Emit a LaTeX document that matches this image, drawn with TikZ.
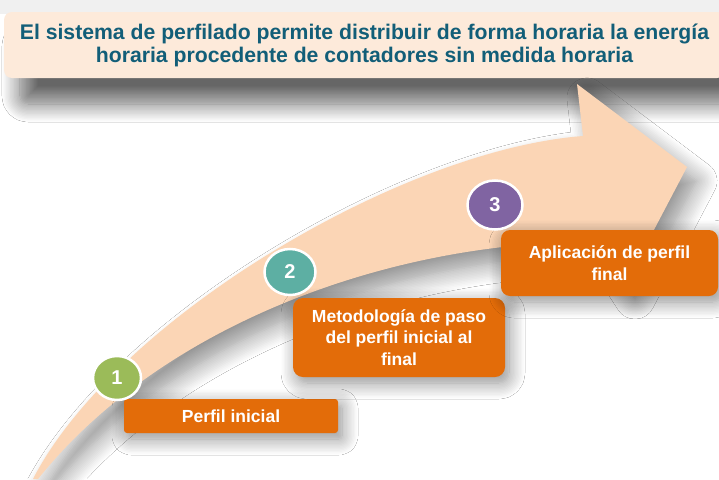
\documentclass[tikz,border=0pt]{standalone}
\usepackage{fontspec}
\setmainfont{Liberation Sans}
\usetikzlibrary{shapes.geometric, shadows.blur}

\definecolor{peach}{HTML}{FBD5B5}
\definecolor{titlefill}{HTML}{FDEADA}
\definecolor{titletext}{HTML}{125E78}
\definecolor{boxorange}{HTML}{E36C09}
\definecolor{numgreen}{HTML}{9BBB59}
\definecolor{numteal}{HTML}{5DAFA3}
\definecolor{numpurple}{HTML}{8064A2}

\tikzset{
  stepbox/.style={fill=boxorange, text=white, font=\fontsize{17.5}{21.5}\selectfont\bfseries,
    align=center, inner sep=0pt, blur shadow={shadow xshift=4pt, shadow yshift=-6pt, shadow blur radius=16pt, shadow blur steps=12, shadow opacity=45}},
  stepnum/.style={ellipse, draw=white, line width=2.5pt, text=white, inner sep=0pt,
    font=\fontsize{20}{20}\selectfont\bfseries},
}

\begin{document}
\begin{tikzpicture}[x=1pt, y=-1pt]
	\useasboundingbox (0,0) rectangle (719,479);
	\fill[white] (0,0) rectangle (719,479);
	\fill[black!6] (0,0) rectangle (719,14);
	%Title
		\node[fill=titlefill, rounded corners=8pt, minimum width=721pt, minimum height=66pt,
		      text=titletext, font=\fontsize{21.2}{23}\selectfont\bfseries, align=center,
		      blur shadow={shadow xshift=16pt, shadow yshift=-26pt, shadow blur radius=18pt, shadow blur steps=14, shadow opacity=60}]
		      (title) at (364.5,45) {El sistema de perfilado permite distribuir de forma horaria la energía\\horaria procedente de contadores sin medida horaria};
	%Arrow
		\fill[peach, blur shadow={shadow xshift=10pt, shadow yshift=-14pt, shadow blur radius=20pt, shadow blur steps=14, shadow opacity=45}]
		  (33,479) .. controls (115,320) and (400,150) .. (583,136)
		  -- (577,84) -- (687,167) -- (625,285) -- (597,242)
		  .. controls (400,240) and (165,320) .. (38,479)
		  -- cycle;
	%Step 1
		\node[stepbox, minimum width=214pt, minimum height=34pt, rounded corners=3pt] (box1) at (231,416) {Perfil inicial};
		\node[stepnum, fill=numgreen, minimum width=48pt, minimum height=44pt] (n1) at (117,378) {1};
	%Step 2
		\node[stepbox, minimum width=212pt, minimum height=79pt, rounded corners=10pt] (box2) at (399,337.5) {Metodología de paso\\del perfil inicial al\\final};
		\node[stepnum, fill=numteal, minimum width=51pt, minimum height=46pt] (n2) at (290,272) {2};
	%Step 3
		\node[stepbox, minimum width=217pt, minimum height=66pt, rounded corners=9pt] (box3) at (609.5,263) {Aplicación de perfil\\final};
		\node[stepnum, fill=numpurple, minimum width=55pt, minimum height=49pt] (n3) at (495,205) {3};
\end{tikzpicture}
\end{document}
